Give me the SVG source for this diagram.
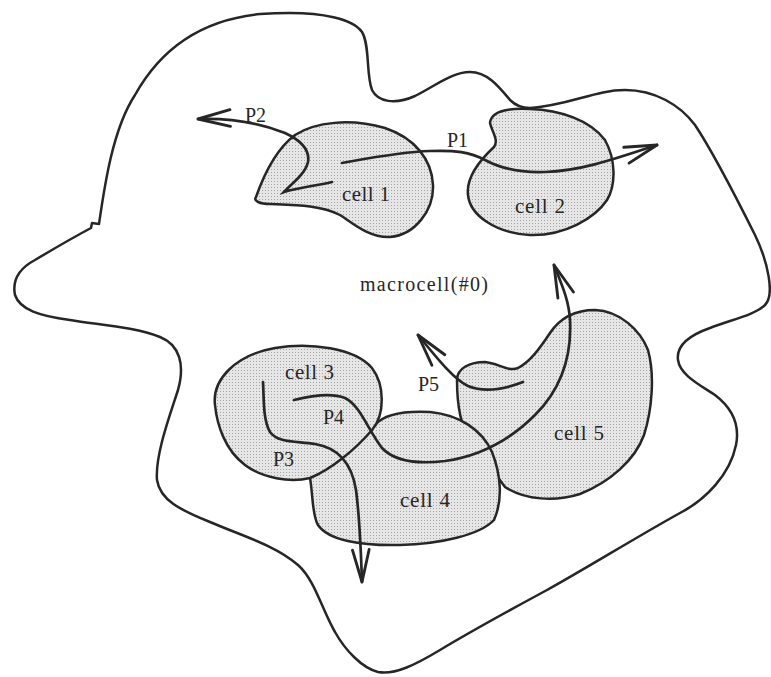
<svg xmlns="http://www.w3.org/2000/svg" width="771" height="677" viewBox="0 0 771 677">
  <defs>
    <!-- halftone screen used for cell interiors -->
    <pattern id="screen" width="3" height="3" patternUnits="userSpaceOnUse">
      <rect width="3" height="3" fill="#e6e6e6"/>
      <rect x="1" y="1" width="1" height="1" fill="#a4a4a4"/>
    </pattern>
    <!-- open chevron arrowhead for paths -->
    <marker id="arrow" markerUnits="userSpaceOnUse" markerWidth="40" markerHeight="40" viewBox="-32 -12 36 24" refX="0" refY="0" orient="auto" overflow="visible">
      <path d="M -29,-7.5 L 0,0 L -29,7.5" fill="none" stroke="#262626" stroke-width="2.6" stroke-linecap="round" stroke-linejoin="round"/>
    </marker>
  </defs>
  <style>
    .outline { fill: none; stroke: #262626; stroke-width: 2.5; stroke-linejoin: round; }
    .cell { fill: url(#screen); stroke: #262626; stroke-width: 2.5; stroke-linejoin: round; }
    .path { fill: none; stroke: #262626; stroke-width: 2.7; stroke-linecap: round; marker-end: url(#arrow); }
    text { font-family: "Liberation Serif", "Times New Roman", serif; font-size: 20px; fill: #262626; }
    .cell-label { font-size: 21px; }
  </style>

  <rect width="771" height="677" fill="#ffffff"/>

  <!-- enclosing macrocell boundary -->
  <g id="macrocell">
    <path class="outline" d="M 290,13
      C 320,13 352,18 362,32
      C 370,45 366,75 372,90
      C 378,102 395,105 415,96
      C 435,86 452,72 470,72
      C 488,72 500,88 510,100
      C 516,106 522,108 530,108
      C 570,105 595,90 625,90
      C 655,90 680,105 695,125
      C 715,155 740,205 755,235
      C 768,262 775,295 765,305
      C 755,315 730,320 710,328
      C 690,335 676,345 678,360
      C 680,375 700,385 715,395
      C 732,408 740,425 736,445
      C 730,475 705,500 680,513
      C 640,535 580,572 547,590
      C 510,610 470,632 440,650
      C 415,665 395,675 378,672
      C 362,668 345,650 335,632
      C 322,610 315,580 298,565
      C 275,545 240,535 210,522
      C 180,510 160,500 157,480
      C 155,455 170,415 178,390
      C 185,365 180,345 160,337
      C 135,327 100,325 70,320
      C 40,316 20,310 15,295
      C 12,280 20,268 35,260
      C 55,248 76,236 91,228
      L 92,223 L 99,224
      C 104,190 112,130 135,95
      C 160,50 200,20 260,14
      C 275,13 285,13 290,13 Z"/>
    <text x="360" y="291" textLength="128">macrocell(#0)</text>
  </g>

  <g id="cell1">
    <path class="cell" d="M 256,197
      C 262,180 275,150 295,135
      C 315,122 350,118 385,128
      C 415,138 432,160 433,185
      C 434,210 415,235 390,237
      C 370,238 355,225 340,215
      C 320,205 295,205 270,204
      C 260,204 253,201 256,197 Z"/>
    <text class="cell-label" x="342" y="201" textLength="48">cell 1</text>
  </g>

  <g id="cell2">
    <path class="cell" d="M 490,123
      C 492,132 499,140 494,147
      C 480,160 466,178 468,195
      C 470,215 495,233 530,235
      C 565,236 595,218 607,200
      C 616,185 616,160 605,140
      C 590,120 560,110 530,109
      C 510,108 491,110 490,123 Z"/>
    <text class="cell-label" x="515" y="213" textLength="50">cell 2</text>
  </g>

  <g id="cell5">
    <path class="cell" d="M 457,380
      C 457,368 470,362 485,362
      C 498,363 508,372 518,368
      C 530,362 540,348 550,333
      C 560,318 575,310 595,310
      C 620,311 640,330 648,350
      C 655,375 652,410 644,435
      C 635,460 610,482 580,494
      C 555,502 525,500 505,487
      L 470,440
      C 460,425 457,400 457,380 Z"/>
    <text class="cell-label" x="554" y="440" textLength="50">cell 5</text>
  </g>

  <g id="cell4">
    <path class="cell" d="M 310,478
      C 313,495 312,515 318,525
      C 328,540 360,546 400,545
      C 440,544 480,535 494,520
      C 503,500 501,475 492,452
      C 482,430 460,415 430,412
      C 410,411 385,413 375,425
      C 360,440 330,462 310,478 Z"/>
    <text class="cell-label" x="400" y="507" textLength="50">cell 4</text>
  </g>

  <g id="cell3">
    <path class="cell" d="M 215,405
      C 212,380 235,355 275,348
      C 310,342 355,348 372,368
      C 385,385 385,415 372,430
      C 355,450 330,470 310,478
      C 290,483 262,478 245,465
      C 225,450 217,425 215,405 Z"/>
    <text class="cell-label" x="285" y="379" textLength="49">cell 3</text>
  </g>

  <!-- signal paths P1..P5 -->
  <g id="connectors">
    <path id="P1" class="path" d="M 342,163 C 370,158 400,152 430,151 C 455,150 470,152 485,160 C 500,168 520,173 545,172 C 580,171 612,160 657,145"/>
    <path id="P2" class="path" d="M 332,182 C 315,186 295,188 284,192 C 290,185 305,175 308,162 C 310,150 300,140 285,133 C 260,123 230,118 198,119"/>
    <path id="P3" class="path" d="M 263,382 C 264,400 263,420 270,432 C 278,443 295,441 315,444 C 340,448 352,465 356,490 C 360,520 361,555 362,582"/>
    <path id="P4" class="path" d="M 294,400 C 310,396 330,392 345,398 C 360,405 368,430 382,448 C 395,462 420,464 445,461 C 480,456 510,440 535,415 C 560,390 572,360 570,320 C 569,300 561,283 554,265"/>
    <path id="P5" class="path" d="M 523,382 C 505,389 485,393 468,386 C 455,380 440,362 418,335"/>
    <text x="245" y="122">P2</text>
    <text x="447" y="147">P1</text>
    <text x="418" y="391">P5</text>
    <text x="323" y="424">P4</text>
    <text x="273" y="466">P3</text>
  </g>
</svg>
